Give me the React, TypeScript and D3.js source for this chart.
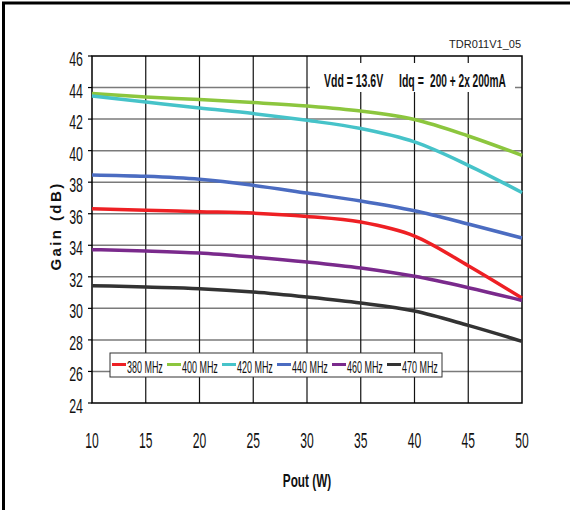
import React from "react";
import * as d3 from "d3";

const pout = [10, 15, 20, 25, 30, 35, 40, 45, 50];
const g380 = [36.32, 36.22, 36.13, 36.04, 35.83, 35.47, 34.58, 32.7, 30.65];
const g400 = [43.62, 43.4, 43.24, 43.05, 42.83, 42.51, 41.97, 40.93, 39.7];
const g420 = [43.46, 43.08, 42.7, 42.35, 41.92, 41.4, 40.55, 39.07, 37.34];
const g440 = [38.46, 38.37, 38.18, 37.8, 37.31, 36.81, 36.19, 35.35, 34.46];
const g460 = [33.72, 33.64, 33.51, 33.25, 32.94, 32.56, 32.03, 31.31, 30.5];
const g470 = [31.44, 31.35, 31.25, 31.04, 30.72, 30.34, 29.83, 28.92, 27.91];

const seriesNames = ["380 MHz", "400 MHz", "420 MHz", "440 MHz", "460 MHz", "470 MHz"];
const seriesValues = [g380, g400, g420, g440, g460, g470];
const seriesColors = ["#ee2024", "#8cc63e", "#46c3c9", "#4b6cc1", "#7a2a8c", "#333333"];

const xTicks = [10, 15, 20, 25, 30, 35, 40, 45, 50];
const yTicks = [24, 26, 28, 30, 32, 34, 36, 38, 40, 42, 44, 46];

const FONT = "'Liberation Sans', Arial, sans-serif";

export default function App() {
  const x = d3.scaleLinear().domain([10, 50]).range([92, 522]);
  const y = d3.scaleLinear().domain([24, 46]).range([403, 56]);
  const line = d3
    .line<[number, number]>()
    .x((d) => x(d[0]))
    .y((d) => y(d[1]))
    .curve(d3.curveMonotoneX);

  const legendX0 = 112;
  const legendStep = 55;

  return (
    <svg
      width={575}
      height={510}
      style={{ position: "absolute", left: 0, top: 0, background: "#fff" }}
      fontFamily={FONT}
    >
      <rect x={0} y={0} width={575} height={510} fill="#fff" />
      {/* outer frame */}
      <line x1={2} x2={570} y1={3} y2={3} stroke="#000" strokeWidth={3} />
      <line x1={3.5} x2={3.5} y1={2} y2={510} stroke="#000" strokeWidth={3} />

      {/* horizontal grid */}
      {yTicks.slice(1, -1).map((t) => (
        <line key={"h" + t} x1={x(10)} x2={x(50)} y1={y(t)} y2={y(t)} stroke="#7a7a7a" strokeWidth={1.5} />
      ))}
      {/* vertical grid */}
      {xTicks.slice(1, -1).map((t) => (
        <line key={"v" + t} x1={x(t)} x2={x(t)} y1={y(46)} y2={y(24)} stroke="#111" strokeWidth={1.2} />
      ))}
      {/* plot border */}
      <rect x={x(10)} y={y(46)} width={x(50) - x(10)} height={y(24) - y(46)} fill="none" stroke="#000" strokeWidth={1.5} />
      {/* y ticks */}
      {yTicks.map((t) => (
        <line key={"yt" + t} x1={x(10) - 4} x2={x(10)} y1={y(t)} y2={y(t)} stroke="#000" strokeWidth={1.2} />
      ))}

      {/* annotation box */}
      <rect x={310} y={63} width={205} height={29} fill="#fff" />
      <text transform="translate(324,86.5) scale(0.6,1)" fontSize={17.5} fontWeight="bold" fill="#111">
        Vdd = 13.6V
      </text>
      <text transform="translate(399,86.5) scale(0.6,1)" fontSize={17.5} fontWeight="bold" fill="#111">
        Idq =
      </text>
      <text transform="translate(430,86.5) scale(0.58,1)" fontSize={17.5} fontWeight="bold" fill="#111">
        200 + 2x 200mA
      </text>

      {/* series */}
      {seriesValues.map((vals, i) => (
        <path
          key={seriesNames[i]}
          d={line(pout.map((p, j) => [p, vals[j]] as [number, number])) || ""}
          fill="none"
          stroke={seriesColors[i]}
          strokeWidth={3.5}
          strokeLinecap="butt"
        />
      ))}

      {/* legend */}
      <rect x={110} y={353} width={332} height={24} fill="#fff" stroke="#333" strokeWidth={1} />
      {seriesNames.map((name, i) => {
        const lx = legendX0 + i * legendStep;
        return (
          <g key={"lg" + name}>
            <line x1={lx} x2={lx + 14} y1={364.5} y2={364.5} stroke={seriesColors[i]} strokeWidth={3} />
            <text transform={`translate(${lx + 15},373) scale(0.56,1)`} fontSize={16} fill="#111">
              {name}
            </text>
          </g>
        );
      })}

      {/* y tick labels */}
      {yTicks.map((t) => (
        <text key={"yl" + t} transform={`translate(83,${y(t) + 10}) scale(0.62,1)`} fontSize={20} textAnchor="end" fill="#111">
          {t}
        </text>
      ))}
      {/* x tick labels */}
      {xTicks.map((t) => (
        <text key={"xl" + t} transform={`translate(${x(t)},448) scale(0.55,1)`} fontSize={22} textAnchor="middle" fill="#111">
          {t}
        </text>
      ))}

      {/* axis titles */}
      <text transform="translate(307,487) scale(0.62,1)" fontSize={19} fontWeight="bold" textAnchor="middle" fill="#111">
        Pout (W)
      </text>
      <text
        transform="translate(61,226) rotate(-90)"
        fontSize={15}
        fontWeight="bold"
        letterSpacing={2.4}
        textAnchor="middle"
        fill="#111"
      >
        Gain (dB)
      </text>

      <text x={521} y={48} fontSize={11} textAnchor="end" fill="#222">
        TDR011V1_05
      </text>
    </svg>
  );
}
